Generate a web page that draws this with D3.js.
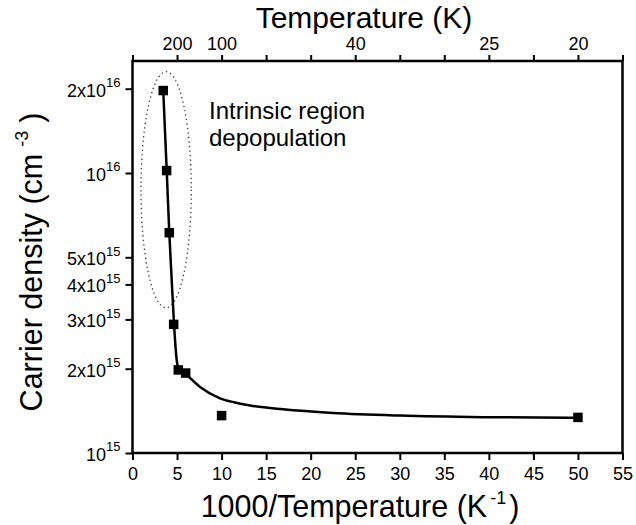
<!DOCTYPE html>
<html><head><meta charset="utf-8">
<script src="https://cdn.jsdelivr.net/npm/d3@7"></script>
<style>
body{margin:0;background:#fff}
text{font-family:"Liberation Sans",Arial,Helvetica,sans-serif;fill:#000}
</style>
</head><body>
<svg id="c" width="636" height="525"></svg>
<script>
// ---- data ----
const invT = [3.45, 3.83, 4.13, 4.62, 5.14, 5.97, 10.0, 50.0];
const density = [1.97e16, 1.02e16, 6.12e15, 2.88e15, 1.98e15, 1.93e15, 1.36e15, 1.34e15];
const fitInvT = [3.45, 3.84, 4.13, 4.40, 4.66, 4.96, 5.14, 6.08, 7.58, 9.82, 11.5, 13.2, 16.9, 22.5, 30.0, 39.3, 49.7];
const fitDensity = [1.97e16, 1.02e16, 6.12e15, 4.15e15, 2.89e15, 2.15e15, 2.01e15, 1.90e15, 1.72e15, 1.568e15, 1.515e15, 1.478e15, 1.432e15, 1.389e15, 1.360e15, 1.343e15, 1.337e15];
const xTickValues = [0, 5, 10, 15, 20, 25, 30, 35, 40, 45, 50, 55];
const topTempLabels = [200, 100, 40, 25, 20];
const yTickValues = [1e15, 2e15, 3e15, 4e15, 5e15, 1e16, 2e16];
const yTickMantissa = ["10", "2x10", "3x10", "4x10", "5x10", "10", "2x10"];
const yTickExponent = ["15", "15", "15", "15", "15", "16", "16"];
const ellipseInvT = [0.95, 6.6];
const ellipseDensity = [3.3e15, 2.3e16];
const annotationLines = ["Intrinsic region", "depopulation"];

// ---- layout ----
const L = 132.5, R = 622.5, T = 61, B = 453;
const svg = d3.select("#c");
const x = d3.scaleLinear().domain([0, 55]).range([L, R]);
const y = d3.scaleLog().domain([1e15, 10 ** 16.4]).range([B, T]);

// bottom axis
const gb = svg.append("g").attr("transform", `translate(0,${B})`)
  .call(d3.axisBottom(x).tickValues(xTickValues).tickSize(7).tickSizeOuter(0).tickPadding(7).tickFormat(d3.format("d")));
gb.select(".domain").remove();
gb.selectAll("line").attr("stroke-width", 2);
gb.selectAll("text").attr("font-size", 18).attr("font-family", null);

// top axis
const topPos = topTempLabels.map(t => 1000 / t);
const gt = svg.append("g").attr("transform", `translate(0,${T})`)
  .call(d3.axisTop(x).tickValues(xTickValues).tickSize(6).tickSizeOuter(0).tickPadding(5)
    .tickFormat(d => { const i = topPos.findIndex(p => Math.abs(p - d) < 1e-6); return i >= 0 ? String(topTempLabels[i]) : ""; }));
gt.select(".domain").remove();
gt.selectAll("line").attr("stroke-width", 2);
gt.selectAll("text").attr("font-size", 18).attr("font-family", null);

// left axis
const gl = svg.append("g").attr("transform", `translate(${L},0)`)
  .call(d3.axisLeft(y).tickValues(yTickValues).tickSize(7).tickSizeOuter(0).tickPadding(5).tickFormat(() => ""));
gl.select(".domain").remove();
gl.selectAll("line").attr("stroke-width", 2);
gl.selectAll("text").attr("font-size", 18).attr("font-family", null).attr("dy", "0.42em").each(function(d) {
  const i = yTickValues.indexOf(d);
  const t = d3.select(this);
  t.append("tspan").text(yTickMantissa[i]);
  t.append("tspan").attr("font-size", 13).attr("dy", "-0.75em").text(yTickExponent[i]);
});

// frame
svg.append("rect").attr("x", L).attr("y", T).attr("width", R - L).attr("height", B - T)
  .attr("fill", "none").attr("stroke", "#000").attr("stroke-width", 2.5);

// ellipse annotation
const ecx = (x(ellipseInvT[0]) + x(ellipseInvT[1])) / 2;
const ecy = (y(ellipseDensity[0]) + y(ellipseDensity[1])) / 2;
svg.append("ellipse").attr("cx", ecx).attr("cy", ecy)
  .attr("rx", (x(ellipseInvT[1]) - x(ellipseInvT[0])) / 2)
  .attr("ry", (y(ellipseDensity[0]) - y(ellipseDensity[1])) / 2)
  .attr("fill", "none").attr("stroke", "#333").attr("stroke-width", 1.3).attr("stroke-dasharray", "1.3,3.2");

// fit curve
const fit = fitInvT.map((v, i) => [v, fitDensity[i]]);
svg.append("path").datum(fit)
  .attr("d", d3.line().x(d => x(d[0])).y(d => y(d[1])).curve(d3.curveMonotoneX))
  .attr("fill", "none").attr("stroke", "#000").attr("stroke-width", 2.5);

// markers
const ms = 9.5;
svg.append("g").selectAll("rect").data(invT.map((v, i) => [v, density[i]])).join("rect")
  .attr("x", d => x(d[0]) - ms / 2).attr("y", d => y(d[1]) - ms / 2)
  .attr("width", ms).attr("height", ms).attr("fill", "#000");

// annotation text
svg.append("text").attr("x", 209).attr("y", 119).attr("font-size", 24).text(annotationLines[0]);
svg.append("text").attr("x", 209).attr("y", 146).attr("font-size", 24).text(annotationLines[1]);

// titles
svg.append("text").attr("x", 364).attr("y", 27.5).attr("text-anchor", "middle").attr("font-size", 30).text("Temperature (K)");

const xl = svg.append("text").attr("x", 360).attr("y", 517).attr("text-anchor", "middle").attr("font-size", 30.5);
xl.append("tspan").text("1000/Temperature (K");
xl.append("tspan").attr("font-size", 18).attr("dy", -13).attr("dx", 3).text("-1");
xl.append("tspan").attr("dy", 13).attr("dx", 3).text(")");

const yl = svg.append("text").attr("transform", "translate(42,262) rotate(-90)").attr("text-anchor", "middle").attr("font-size", 30.5);
yl.append("tspan").text("Carrier density (cm");
yl.append("tspan").attr("font-size", 18).attr("dy", -14).attr("dx", 7).text("-3");
yl.append("tspan").attr("dy", 14).attr("dx", 8).text(")");
</script>
</body></html>
